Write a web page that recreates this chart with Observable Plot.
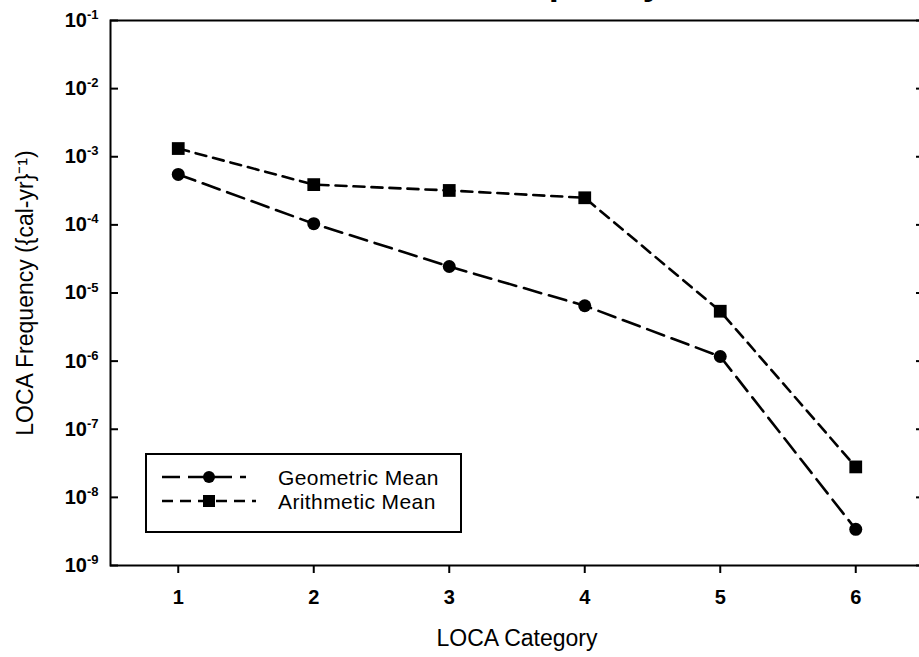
<!DOCTYPE html>
<html><head><meta charset="utf-8">
<script src="https://cdn.jsdelivr.net/npm/d3@7"></script>
<script src="https://cdn.jsdelivr.net/npm/@observablehq/plot@0.6"></script>
<style>
html,body{margin:0;padding:0;background:#fff;overflow:hidden;}
#wrap{position:relative;width:919px;height:657px;overflow:hidden;}
#title{position:absolute;left:110px;width:813px;top:-39px;line-height:40px;text-align:center;font:bold 36px "Liberation Sans",Arial,sans-serif;color:#000;}
#legend{position:absolute;left:145px;top:453px;width:317px;height:80px;border:2px solid #000;box-sizing:border-box;background:#fff;}
#legend .row{position:absolute;left:0;height:22px;}
#legend svg{position:absolute;left:14px;top:0;}
#legend span{position:absolute;left:131px;top:0;line-height:22px;font:21px "Liberation Sans",Arial,sans-serif;letter-spacing:0.4px;white-space:nowrap;color:#000;}
</style></head>
<body><div id="wrap"><div id="title">LOCA Frequency</div><div id="chart"></div><div id="legend"></div></div>
<script>
// ---- data ----
const categories = [1, 2, 3, 4, 5, 6];
const geometricMean = [5.5e-4, 1.04e-4, 2.45e-5, 6.5e-6, 1.17e-6, 3.4e-9];
const arithmeticMean = [1.32e-3, 3.9e-4, 3.2e-4, 2.5e-4, 5.4e-6, 2.8e-8];
const seriesNames = ["Geometric Mean", "Arithmetic Mean"];
const yTicks = [1e-9, 1e-8, 1e-7, 1e-6, 1e-5, 1e-4, 1e-3, 1e-2, 1e-1];
const yTickBase = "10";
const yTickExponents = ["-9", "-8", "-7", "-6", "-5", "-4", "-3", "-2", "-1"];
const xLabel = "LOCA Category";
const yLabel = "LOCA Frequency ({cal-yr}⁻¹)";

const geoRows = categories.map((c, i) => ({category: c, value: geometricMean[i], series: seriesNames[0]}));
const ariRows = categories.map((c, i) => ({category: c, value: arithmeticMean[i], series: seriesNames[1]}));

const geoDash = "18,8";
const ariDash = "11,7";
const font = "'Liberation Sans', Arial, sans-serif";

const chart = Plot.plot({
  width: 930, height: 657,
  marginLeft: 110, marginRight: 7, marginTop: 20, marginBottom: 92,
  style: {fontFamily: font, maxWidth: "none", overflow: "visible", background: "transparent"},
  x: {domain: [0.5, 6.5]},
  y: {type: "log", domain: [1e-9, 1e-1]},
  marks: [
    Plot.frame({stroke: "black", strokeWidth: 2}),
    Plot.axisY(yTicks, {tickSize: -8, tickPadding: 20, strokeWidth: 2, tickFormat: (d) => yTickBase + yTickExponents[yTicks.indexOf(d)], label: null}),
    Plot.axisY(yTicks, {anchor: "right", tickSize: -8, strokeWidth: 2, tickFormat: () => "", label: null}),
    Plot.axisX(categories, {tickSize: 8, tickPadding: 16, strokeWidth: 2, tickFormat: (d) => String(d), label: null}),
    Plot.text([xLabel], {frameAnchor: "bottom", dy: 80, text: (d) => d, fontSize: 23, fill: "black"}),
    Plot.text([yLabel], {frameAnchor: "left", dx: -85, rotate: -90, textAnchor: "middle", text: (d) => d, fontSize: 23, fill: "black"}),
    Plot.line(geoRows, {x: "category", y: "value", stroke: "black", strokeWidth: 2.6, strokeDasharray: geoDash}),
    Plot.line(ariRows, {x: "category", y: "value", stroke: "black", strokeWidth: 2.6, strokeDasharray: ariDash}),
    Plot.dot(geoRows, {x: "category", y: "value", symbol: "circle", r: 6.5, fill: "black", stroke: "none"}),
    Plot.dot(ariRows, {x: "category", y: "value", symbol: "square", r: 7.2, fill: "black", stroke: "none"})
  ]
});
document.getElementById("chart").appendChild(chart);

// tick label styling
d3.select(chart).selectAll('g[aria-label="x-axis tick label"]')
  .style("font-size", "20px").style("font-weight", "bold");
d3.select(chart).selectAll('g[aria-label="y-axis tick label"]')
  .style("font-size", "20px").style("font-weight", "bold");
// y tick labels: base with raised exponent
d3.select(chart).selectAll('g[aria-label="y-axis tick label"] text').each(function () {
  const t = d3.select(this);
  const s = t.text();
  if (!s) return;
  t.text("");
  t.append("tspan").style("font-size", "20px").text(s.slice(0, 2));
  t.append("tspan").style("font-size", "13px").attr("dy", "-0.6em").text(s.slice(2));
});

// legend overlay
const legend = d3.select("#legend");
[[seriesNames[0], geoDash, "circle", 11], [seriesNames[1], ariDash, "square", 35]].forEach(([name, dash, sym, top]) => {
  const row = legend.append("div").attr("class", "row").style("top", top + "px").style("width", "313px");
  const svg = row.append("svg").attr("width", 100).attr("height", 22);
  svg.append("line").attr("x1", 1).attr("x2", sym === "circle" ? 85 : 95).attr("y1", 11).attr("y2", 11)
    .attr("stroke", "black").attr("stroke-width", 2.6).attr("stroke-dasharray", dash);
  if (sym === "circle") svg.append("circle").attr("cx", 48).attr("cy", 11).attr("r", 6).attr("fill", "black");
  else svg.append("rect").attr("x", 42).attr("y", 5).attr("width", 12).attr("height", 12).attr("fill", "black");
  row.append("span").text(name);
});
</script>
</body></html>
